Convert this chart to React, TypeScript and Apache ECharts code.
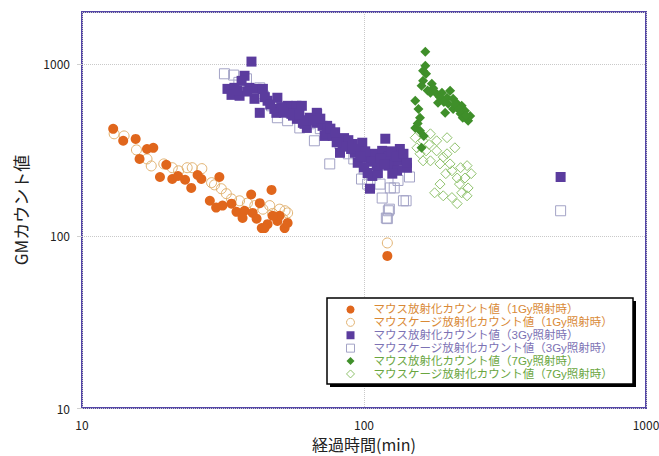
import React, { useEffect, useRef } from "react";
import * as echarts from "echarts";

// Elapsed time (min) vs GM count, log-log
const xTickLabels = ["10", "100", "1000"];
const yTickLabels = ["10", "100", "1000"];

const seriesNames = [
  "マウス放射化カウント値（1Gy照射時）",
  "マウスケージ放射化カウント値（1Gy照射時）",
  "マウス放射化カウント値（3Gy照射時）",
  "マウスケージ放射化カウント値（3Gy照射時）",
  "マウス放射化カウント値（7Gy照射時）",
  "マウスケージ放射化カウント値（7Gy照射時）",
];

const mouse1Gy: [number, number][] = [
  [12.9, 419], [14.0, 357], [15.5, 366], [17.0, 320], [17.9, 325], [16.0, 280],
  [19.9, 259], [18.9, 220], [20.9, 214], [21.9, 223], [23.2, 212], [24.4, 190],
  [25.7, 226], [26.5, 214], [30.7, 220], [39.8, 174], [47.0, 185], [28.4, 160],
  [29.9, 146], [31.5, 150], [33.9, 154], [35.3, 138], [37.7, 140], [40.3, 136],
  [42.7, 155], [37.1, 127], [41.6, 126], [43.4, 111], [45.5, 117], [49.3, 122],
  [50.2, 131], [52.3, 111], [53.6, 119], [47.4, 131], [44.4, 111], [121, 76.5],
];

const cage1Gy: [number, number][] = [
  [13.0, 392], [14.1, 381], [15.6, 316], [17.0, 280], [17.6, 255], [20.9, 249],
  [22.0, 239], [23.6, 249], [24.6, 249], [26.6, 246], [28.8, 204], [31.2, 188],
  [32.5, 176], [33.9, 164], [36.2, 160], [38.6, 155], [43.8, 143], [46.3, 150],
  [47.4, 135], [50.2, 143], [51.5, 126], [53.6, 136], [19.5, 262], [29.5, 198],
  [41.0, 150], [52.5, 140], [121, 91],
];

const mouse3Gy: [number, number][] = [
  [39.9, 1030], [37.7, 852], [36.8, 796], [32.8, 715], [34.7, 725], [33.9, 660],
  [36.2, 652], [39.2, 725], [41.6, 715], [43.8, 715], [40.9, 626], [45.5, 610],
  [49.3, 635], [42.7, 519], [48.1, 547], [48.9, 519], [53.6, 570], [57.6, 570],
  [55.3, 512], [57.8, 479], [60.7, 454], [64.2, 486], [68.0, 519], [68.0, 454],
  [71.3, 436], [62.7, 424], [72.5, 381], [60.2, 570], [61.5, 448], [68.2, 512],
  [74.0, 436], [73.7, 392], [77.5, 381], [82.2, 357], [82.2, 304], [86.8, 334],
  [91.3, 342], [98.6, 348], [92.8, 304], [95.0, 266], [100, 284], [104, 291],
  [109, 300], [119, 367], [116, 312], [122, 291], [134, 320], [136, 273],
  [128, 262], [107, 223], [103, 232], [112, 232], [105, 188], [142, 249],
  [142, 266], [122, 256], [111, 256], [35.5, 700], [38.5, 690], [44.5, 640],
  [46.5, 580], [51.0, 560], [52.0, 520], [56.0, 500], [59.0, 510], [63.0, 470],
  [66.0, 470], [70.0, 480], [76.0, 420], [79.0, 400], [85.0, 370], [88.0, 360],
  [90.0, 320], [96.0, 320], [101, 310], [106, 270], [114, 280], [118, 260],
  [125, 310], [130, 290], [138, 300], [131, 240], [126, 230], [100, 250],
  [97, 290], [84, 330], [80, 350], [498, 220],
];

const cage3Gy: [number, number][] = [
  [32.0, 875], [34.5, 860], [38.3, 818], [42.7, 725], [41.6, 669], [47.0, 570],
  [49.3, 486], [53.6, 467], [59.2, 424], [64.0, 448], [66.7, 357], [75.6, 262],
  [82.2, 342], [96.8, 312], [98.0, 214], [103, 200], [114, 200], [124, 190],
  [138, 160], [116, 166], [123, 143], [120, 127], [141, 160], [122, 140],
  [121, 126], [100, 245], [110, 230], [132, 210], [145, 220], [36, 780],
  [44, 650], [55, 520], [70, 420], [88, 300], [92, 280], [106, 250],
  [128, 190], [498, 140],
];

const mouse7Gy: [number, number][] = [
  [165, 1175], [165, 974], [162, 911], [166, 875], [162, 796], [160, 745],
  [174, 765], [172, 678], [181, 669], [189, 678], [202, 697], [197, 635],
  [207, 626], [214, 586], [222, 570], [228, 533], [234, 467], [220, 512],
  [194, 519], [199, 586], [183, 594], [207, 547], [152, 610], [156, 547],
  [158, 486], [152, 424], [158, 408], [160, 325], [224, 486], [238, 498],
  [186, 640], [192, 600], [210, 580], [217, 540], [230, 500], [155, 450],
  [163, 380], [176, 720], [168, 700],
];

const cage7Gy: [number, number][] = [
  [152, 372], [162, 357], [172, 392], [181, 357], [197, 372], [154, 325],
  [166, 312], [181, 312], [191, 287], [162, 273], [186, 262], [197, 300],
  [202, 262], [205, 239], [220, 249], [232, 256], [214, 217], [228, 217],
  [234, 190], [186, 200], [178, 178], [191, 171], [205, 167], [214, 154],
  [232, 171], [222, 178], [172, 273], [210, 325], [170, 340], [158, 300],
  [195, 230], [218, 200], [240, 230],
];

const FONT = "'Noto Sans CJK JP', 'Noto Sans', sans-serif";
// Latin face first keeps the legend rows' line box compact; kana fall back to Noto CJK
const LEGEND_FONT = "'Liberation Sans', 'Noto Sans CJK JP', sans-serif";

const ORANGE = "#e0661c";
const ORANGE_OPEN = "#e2b270";
const PURPLE = "#5b3c9e";
const PURPLE_OPEN = "#a3a3c6";
const GREEN = "#3f8f2a";
const GREEN_OPEN = "#8fc26c";

const ORANGE_TEXT = "#d98936";
const PURPLE_TEXT = "#7c72b4";
const GREEN_TEXT = "#6aa63f";

function tickFormatter(labels: string[]) {
  return (v: number) => {
    const s = String(Math.round(v));
    return labels.includes(s) ? s : "";
  };
}

export default function App() {
  const ref = useRef<HTMLDivElement>(null);

  useEffect(() => {
    if (!ref.current) return;
    const chart = echarts.init(ref.current, undefined, { renderer: "svg" });

    const filled = (color: string) => ({ color, borderWidth: 0, opacity: 1 });
    const hollow = (color: string) => ({
      color: "rgba(255,255,255,0)",
      borderColor: color,
      borderWidth: 1,
      opacity: 1,
    });

    const series = [
      { name: seriesNames[1], data: cage1Gy, symbol: "circle", symbolSize: 10, itemStyle: hollow(ORANGE_OPEN), z: 2 },
      { name: seriesNames[0], data: mouse1Gy, symbol: "circle", symbolSize: 10, itemStyle: filled(ORANGE), z: 3 },
      { name: seriesNames[3], data: cage3Gy, symbol: "rect", symbolSize: 10, itemStyle: hollow(PURPLE_OPEN), z: 2 },
      { name: seriesNames[2], data: mouse3Gy, symbol: "rect", symbolSize: 10, itemStyle: filled(PURPLE), z: 3 },
      { name: seriesNames[5], data: cage7Gy, symbol: "diamond", symbolSize: 10, itemStyle: hollow(GREEN_OPEN), z: 2 },
      { name: seriesNames[4], data: mouse7Gy, symbol: "diamond", symbolSize: 10, itemStyle: filled(GREEN), z: 3 },
    ].map((s) => ({ type: "scatter", ...s }));

    const legendText = [ORANGE_TEXT, ORANGE_TEXT, PURPLE_TEXT, PURPLE_TEXT, GREEN_TEXT, GREEN_TEXT];
    const legendIcons = ["circle", "circle", "rect", "rect", "diamond", "diamond"];
    const legendStyles = [
      filled(ORANGE),
      hollow(ORANGE_OPEN),
      filled(PURPLE),
      hollow(PURPLE_OPEN),
      filled(GREEN),
      hollow(GREEN_OPEN),
    ];

    chart.setOption({
      animation: false,
      backgroundColor: "#ffffff",
      textStyle: { fontFamily: FONT },
      grid: {
        left: 82,
        right: 13,
        top: 12,
        bottom: 48,
        outerBoundsMode: "none",
        show: true,
        borderColor: "#5446a6",
        borderWidth: 2,
      },
      xAxis: {
        type: "log",
        logBase: 10,
        min: 10,
        max: 1000,
        name: "経過時間(min)",
        nameLocation: "middle",
        nameGap: 28,
        nameTextStyle: { fontSize: 16, lineHeight: 16, color: "#222", fontFamily: FONT },
        axisLine: { show: false },
        axisTick: { show: false },
        axisLabel: {
          margin: 10,
          fontSize: 12,
          color: "#222",
          fontFamily: FONT,
          formatter: tickFormatter(xTickLabels),
        },
        splitLine: { show: true, lineStyle: { color: "#c9c9c9", type: "dotted", width: 1 } },
      },
      yAxis: {
        type: "log",
        logBase: 10,
        min: 10,
        max: 2000,
        name: "GMカウント値",
        nameLocation: "middle",
        nameGap: 53,
        nameTextStyle: { fontSize: 17, color: "#222", fontFamily: FONT },
        axisLine: { show: false },
        axisTick: { show: true, length: 5, lineStyle: { color: "#d0d0d0" } },
        axisLabel: {
          margin: 12,
          fontSize: 12,
          color: "#222",
          fontFamily: FONT,
          showMaxLabel: false,
          formatter: tickFormatter(yTickLabels),
        },
        splitLine: { show: true, lineStyle: { color: "#c9c9c9", type: "dotted", width: 1 } },
      },
      legend: {
        orient: "vertical",
        left: 327,
        top: 298,
        padding: [5, 6, 5, 19],
        itemWidth: 8,
        itemHeight: 8,
        itemGap: 0,
        z: 10,
        textStyle: {
          fontSize: 11.5,
          lineHeight: 12.9,
          fontFamily: LEGEND_FONT,
          padding: [0, 0, 0, 14],
        },
        data: seriesNames.map((name, i) => ({
          name,
          icon: legendIcons[i],
          itemStyle: legendStyles[i],
          textStyle: { color: legendText[i] },
        })),
      },
      graphic: [
        {
          type: "rect",
          z: 5,
          shape: { x: 330, y: 301, width: 306, height: 86 },
          style: { fill: "#000" },
          silent: true,
        },
        {
          type: "rect",
          z: 6,
          shape: { x: 327, y: 298, width: 306, height: 86 },
          style: { fill: "#fff", stroke: "#000", lineWidth: 1.5 },
          silent: true,
        },
      ],
      series,
    });

    return () => chart.dispose();
  }, []);

  return (
    <div
      ref={ref}
      style={{ position: "fixed", left: 0, top: 0, width: 659, height: 456, background: "#fff" }}
    />
  );
}
